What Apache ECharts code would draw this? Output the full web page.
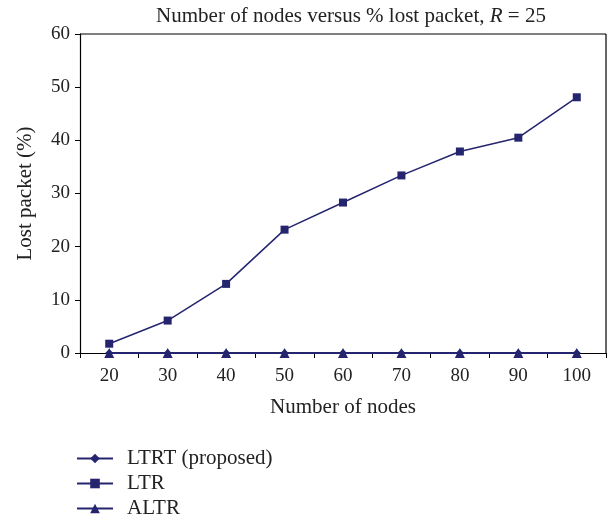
<!DOCTYPE html>
<html>
<head>
<meta charset="utf-8">
<script src="https://cdn.jsdelivr.net/npm/echarts@6/dist/echarts.min.js"></script>
<style>html,body{margin:0;padding:0;background:#fff}#c{width:614px;height:520px}</style>
</head>
<body>
<div id="c"></div>
<script>
var categories = ['20', '30', '40', '50', '60', '70', '80', '90', '100'];
var ltrt = [0, 0, 0, 0, 0, 0, 0, 0, 0];
var ltr = [1.75, 6.1, 13.0, 23.2, 28.3, 33.4, 37.9, 40.5, 48.1];
var altr = [0, 0, 0, 0, 0, 0, 0, 0, 0];
var yTicks = [0, 10, 20, 30, 40, 50, 60];

var navy = '#25256f';
var font = '"Liberation Serif", "DejaVu Serif", serif';

var chart = echarts.init(document.getElementById('c'), null, {renderer: 'canvas'});
chart.setOption({
  animation: false,
  backgroundColor: '#fff',
  title: {
    text: 'Number of nodes versus % lost packet, {i|R} = 25',
    left: 346, textAlign: 'center', top: 1,
    textStyle: {
      fontFamily: font, fontSize: 21, fontWeight: 'normal', color: '#222',
      rich: { i: { fontFamily: font, fontSize: 21, fontStyle: 'italic', color: '#222' } }
    }
  },
  grid: { left: 80, right: 8, top: 34, bottom: 167, containLabel: false },
  xAxis: {
    type: 'category', data: categories, boundaryGap: true,
    name: 'Number of nodes', nameLocation: 'middle', nameGap: 44,
    nameTextStyle: { fontFamily: font, fontSize: 21, color: '#222' },
    axisLine: { lineStyle: { color: '#000', width: 1.2 } },
    axisTick: { show: true, inside: false, length: 5, lineStyle: { color: '#000' } },
    axisLabel: { fontFamily: font, fontSize: 19, color: '#222', margin: 14 },
    splitLine: { show: false }
  },
  yAxis: {
    type: 'value', min: 0, max: 60, interval: 10,
    name: 'Lost packet (%)', nameLocation: 'middle', nameGap: 44, nameRotate: 90,
    nameTextStyle: { fontFamily: font, fontSize: 21, color: '#222' },
    axisLine: { show: true, lineStyle: { color: '#000', width: 1.2 } },
    axisTick: { show: true, inside: false, length: 5, lineStyle: { color: '#000' } },
    axisLabel: { fontFamily: font, fontSize: 19, color: '#222', margin: 10,
      formatter: function (v) { return yTicks.indexOf(v) >= 0 ? String(v) : ''; } },
    splitLine: { show: false }
  },
  legend: {
    orient: 'vertical', left: 71, top: 443, height: 80, itemWidth: 36, itemHeight: 12, itemGap: 4,
    textStyle: { fontFamily: font, fontSize: 21, color: '#222', padding: [0, 0, 0, 9] },
    data: ['LTRT (proposed)', 'LTR', 'ALTR']
  },
  series: [
    {
      name: 'LTRT (proposed)', type: 'line', data: ltrt,
      symbol: 'diamond', symbolSize: 8, color: navy,
      lineStyle: { color: navy, width: 2 }, itemStyle: { color: navy }
    },
    {
      name: 'LTR', type: 'line', data: ltr,
      symbol: 'rect', symbolSize: 8, color: navy,
      lineStyle: { color: navy, width: 1.5 }, itemStyle: { color: navy }
    },
    {
      name: 'ALTR', type: 'line', data: altr,
      symbol: 'triangle', symbolSize: 10, color: navy,
      lineStyle: { color: navy, width: 2 }, itemStyle: { color: navy }
    }
  ],
  graphic: [
    { type: 'line', shape: { x1: 80, y1: 34, x2: 606, y2: 34 }, style: { stroke: '#000', lineWidth: 1.2 } },
    { type: 'line', shape: { x1: 606, y1: 34, x2: 606, y2: 353 }, style: { stroke: '#000', lineWidth: 1.2 } }
  ]
});
</script>
</body>
</html>
